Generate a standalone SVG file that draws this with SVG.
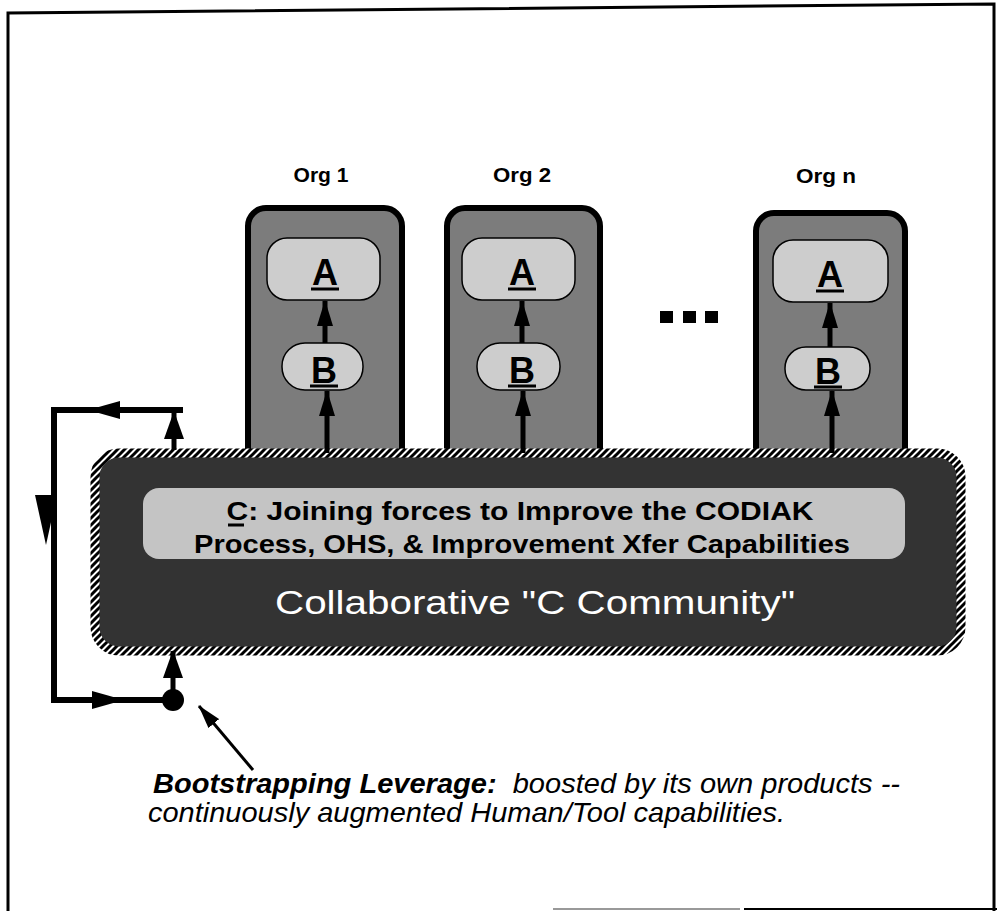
<svg xmlns="http://www.w3.org/2000/svg" width="997" height="911" viewBox="0 0 997 911">
<style>
.lbl{font-family:"Liberation Sans",Arial,sans-serif;font-weight:bold;font-size:20px;fill:#000;text-anchor:middle}
.let{font-family:"Liberation Sans",Arial,sans-serif;font-weight:bold;font-size:36px;fill:#000;text-anchor:middle}
.org{fill:#7c7c7c;stroke:#000;stroke-width:6}
.inner{fill:#cdcdcd;stroke:#000;stroke-width:1.5}
.ul{stroke:#000;stroke-width:3}
.conn{stroke:#000;stroke-width:5;fill:none}
.loop{stroke:#000;stroke-width:6;fill:none}
.strip{font-family:"Liberation Sans",Arial,sans-serif;font-weight:bold;font-size:25px;fill:#000;text-anchor:middle}
.comm{font-family:"Liberation Sans",Arial,sans-serif;font-size:33px;fill:#fff;text-anchor:middle}
.note{font-family:"Liberation Sans",Arial,sans-serif;font-style:italic;font-size:28px;fill:#000}
</style>
<defs>
<marker id="ah" markerUnits="userSpaceOnUse" markerWidth="26" markerHeight="16" refX="25" refY="8" orient="auto">
<path d="M0,0 L26,8 L0,16 z" fill="#000"/>
</marker>
<marker id="ahb" markerUnits="userSpaceOnUse" markerWidth="28" markerHeight="20" refX="27" refY="10" orient="auto">
<path d="M0,0 L28,10 L0,20 z" fill="#000"/>
</marker>
<marker id="ahs" markerUnits="userSpaceOnUse" markerWidth="24" markerHeight="14" refX="23" refY="7" orient="auto">
<path d="M0,0 L24,7 L0,14 z" fill="#000"/>
</marker>
<pattern id="hatch" patternUnits="userSpaceOnUse" width="7" height="7">
<rect width="7" height="7" fill="#fff"/>
<path d="M-2,9 L9,-2 M-2,2 L2,-2 M5,9 L9,5" stroke="#000" stroke-width="3"/>
</pattern>
</defs>
<rect width="997" height="911" fill="#fff"/>
<g id="frame" fill="none" stroke="#000">
<path d="M8,911 L8,13 L994,4 L994,911" stroke-width="3"/>
<path d="M553,909 L740,909" stroke="#999" stroke-width="2"/>
<path d="M744,909 L997,909" stroke-width="2"/>
</g>
<g id="org1">
<text class="lbl" x="321" y="182" textLength="55" lengthAdjust="spacingAndGlyphs">Org 1</text>
<rect class="org" x="248" y="208" width="154" height="270" rx="18"/>
<rect class="inner" x="267" y="238" width="113" height="62" rx="20"/>
<text class="let" x="325" y="285">A</text>
<line class="ul" x1="311" y1="289" x2="339" y2="289"/>
<rect class="inner" x="282" y="343" width="81" height="47" rx="23"/>
<text class="let" x="324" y="383">B</text>
<line class="ul" x1="310" y1="386" x2="338" y2="386"/>
</g>
<g id="org2">
<text class="lbl" x="522" y="182" textLength="58" lengthAdjust="spacingAndGlyphs">Org 2</text>
<rect class="org" x="447" y="208" width="153" height="270" rx="18"/>
<rect class="inner" x="462" y="238" width="113" height="62" rx="20"/>
<text class="let" x="522" y="285">A</text>
<line class="ul" x1="508" y1="289" x2="536" y2="289"/>
<rect class="inner" x="477" y="343" width="83" height="47" rx="23"/>
<text class="let" x="522" y="383">B</text>
<line class="ul" x1="508" y1="386" x2="536" y2="386"/>
</g>
<g id="orgn">
<text class="lbl" x="826" y="183" textLength="60" lengthAdjust="spacingAndGlyphs">Org n</text>
<rect class="org" x="756" y="213" width="149" height="265" rx="18"/>
<rect class="inner" x="773" y="240" width="115" height="62" rx="20"/>
<text class="let" x="830" y="287">A</text>
<line class="ul" x1="816" y1="291" x2="844" y2="291"/>
<rect class="inner" x="785" y="347" width="85" height="43" rx="21"/>
<text class="let" x="828" y="384">B</text>
<line class="ul" x1="814" y1="387" x2="842" y2="387"/>
</g>
<g id="ellipsis" fill="#000">
<rect x="660" y="311" width="13" height="12"/>
<rect x="683" y="311" width="13" height="12"/>
<rect x="705" y="311" width="13" height="12"/>
</g>
<g id="community">
<rect x="95" y="453" width="866" height="198" rx="24" fill="#333" stroke="url(#hatch)" stroke-width="9"/>
<rect x="143" y="488" width="762" height="71" rx="16" fill="#c4c4c4"/>
<text class="strip" x="520" y="520" textLength="587" lengthAdjust="spacingAndGlyphs">C: Joining forces to Improve the CODIAK</text>
<line x1="228" y1="525" x2="244" y2="525" stroke="#000" stroke-width="3"/>
<text class="strip" x="522" y="553" textLength="656" lengthAdjust="spacingAndGlyphs">Process, OHS, &amp; Improvement Xfer Capabilities</text>
<text class="comm" x="535" y="614" textLength="520" lengthAdjust="spacingAndGlyphs">Collaborative "C Community"</text>
</g>
<g id="connectors">
<line class="conn" x1="325" y1="343" x2="325" y2="301" marker-end="url(#ah)"/>
<line class="conn" x1="327" y1="453" x2="327" y2="391" marker-end="url(#ah)"/>
<line class="conn" x1="522" y1="343" x2="522" y2="301" marker-end="url(#ah)"/>
<line class="conn" x1="523" y1="453" x2="523" y2="391" marker-end="url(#ah)"/>
<line class="conn" x1="830" y1="347" x2="830" y2="303" marker-end="url(#ah)"/>
<line class="conn" x1="832" y1="453" x2="832" y2="391" marker-end="url(#ah)"/>
<line class="conn" x1="174" y1="450" x2="174" y2="412" marker-end="url(#ahb)"/>
<path class="loop" d="M183,410 L54,410 L54,700 L173,700"/>
<polygon points="88,410 120,401 120,419" fill="#000"/>
<polygon points="35,495 57,495 46,545" fill="#000"/>
<polygon points="124,700 92,691 92,709" fill="#000"/>
<circle cx="173" cy="700" r="11" fill="#000"/>
<line class="conn" x1="173" y1="700" x2="173" y2="651" marker-end="url(#ahb)"/>
<line x1="253" y1="770" x2="199" y2="706" stroke="#000" stroke-width="3" marker-end="url(#ahs)"/>
</g>
<g id="note">
<text class="note" x="153" y="793" textLength="747" lengthAdjust="spacingAndGlyphs"><tspan font-weight="bold">Bootstrapping Leverage:</tspan><tspan xml:space="preserve">  boosted by its own products --</tspan></text>
<text class="note" x="148" y="822" textLength="637" lengthAdjust="spacingAndGlyphs">continuously augmented Human/Tool capabilities.</text>
</g>
</svg>
